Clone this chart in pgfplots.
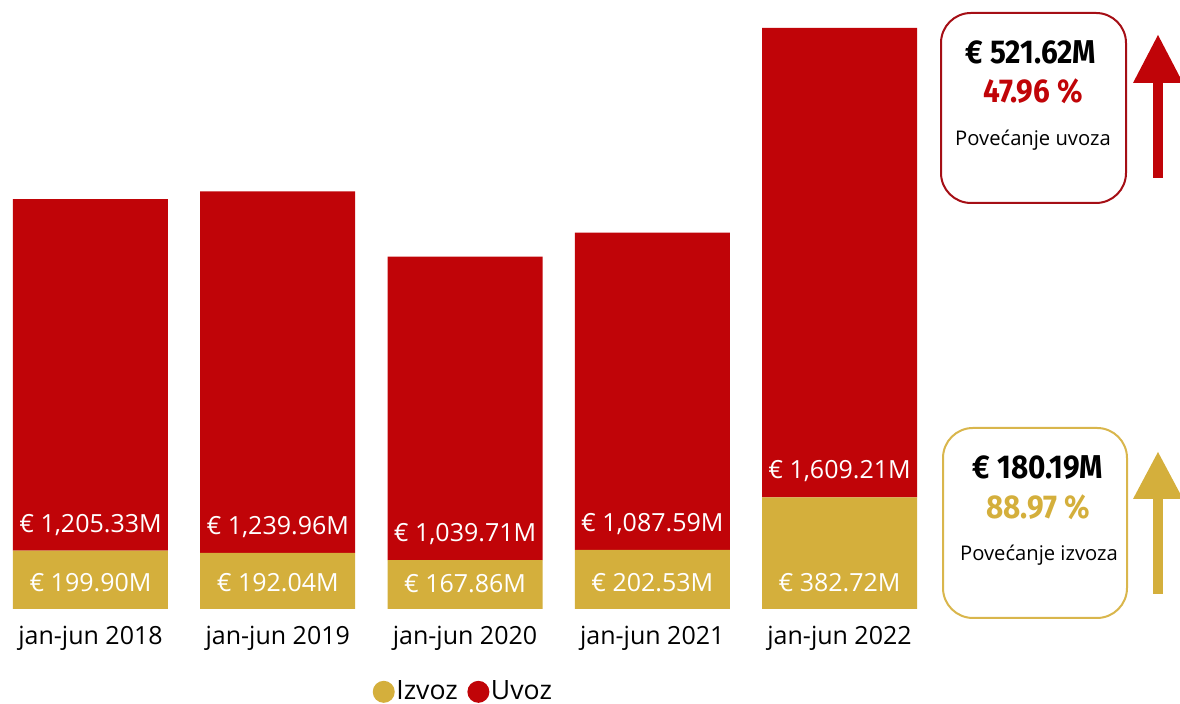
\documentclass[border=0pt]{standalone}
\usepackage{pgfplots}
\pgfplotsset{compat=1.18}
\usepackage{fontspec}
\setmainfont{Open Sans}
\newfontfamily\kpi{Fira Sans}[FakeStretch=0.9]
\definecolor{uvoz}{HTML}{C00408}
\definecolor{izvoz}{HTML}{D4AF3C}
\definecolor{boxred}{HTML}{A50E15}
\definecolor{boxgold}{HTML}{D9B64C}
\tikzset{lbl/.style={text=white, font=\fontsize{12.5pt}{15pt}\selectfont}}

\begin{document}
\begin{tikzpicture}
\path[use as bounding box] (0pt,0pt) rectangle (590pt,352pt);
\begin{axis}[
  at={(0.3pt,47.5pt)}, anchor=south west,
  scale only axis, width=464.4pt, height=291.7pt,
  ybar stacked, bar width=77.5pt,
  xmin=-0.48, xmax=4.48, ymin=0, ymax=2000,
  axis x line*=bottom, axis y line=none,
  axis line style={draw=none},
  xtick={0,...,4}, major tick length=0pt,
  xticklabels={jan-jun 2018,jan-jun 2019,jan-jun 2020,jan-jun 2021,jan-jun 2022},
  xticklabel style={anchor=base, yshift=-18pt, font=\fontsize{12.5pt}{15pt}\selectfont},
  ytick=\empty,
  clip=false,
  legend columns=-1,
  legend style={at={(0.498,-0.142)}, anchor=center, draw=none,
    font=\fontsize{13.3pt}{15pt}\selectfont,
    nodes={inner xsep=0.8pt},
    /tikz/every even column/.append style={column sep=4pt}},
]
\addplot[fill=izvoz, draw=none,
  legend image code/.code={\fill[izvoz] (0pt,0pt) circle (5.5pt);}]
  coordinates {(0,199.90) (1,192.04) (2,167.86) (3,202.53) (4,382.72)};
\addlegendentry{Izvoz}
\addplot[fill=uvoz, draw=none,
  legend image code/.code={\fill[uvoz] (0pt,0pt) circle (5.5pt);}]
  coordinates {(0,1205.33) (1,1239.96) (2,1039.71) (3,1087.59) (4,1609.21)};
\addlegendentry{Uvoz}
% anchor points for the value labels (just above each segment's base)
\coordinate (i0) at (axis cs:0,91);
\coordinate (i1) at (axis cs:1,91);
\coordinate (i2) at (axis cs:2,88);
\coordinate (i3) at (axis cs:3,91);
\coordinate (i4) at (axis cs:4,90);
\coordinate (u0) at (axis cs:0,289);
\coordinate (u1) at (axis cs:1,281);
\coordinate (u2) at (axis cs:2,257);
\coordinate (u3) at (axis cs:3,291.5);
\coordinate (u4) at (axis cs:4,471.7);
\end{axis}

\node[lbl] at (i0) {€ 199.90M};
\node[lbl] at (i1) {€ 192.04M};
\node[lbl] at (i2) {€ 167.86M};
\node[lbl] at (i3) {€ 202.53M};
\node[lbl] at (i4) {€ 382.72M};
\node[lbl] at (u0) {€ 1,205.33M};
\node[lbl] at (u1) {€ 1,239.96M};
\node[lbl] at (u2) {€ 1,039.71M};
\node[lbl] at (u3) {€ 1,087.59M};
\node[lbl] at (u4) {€ 1,609.21M};

% KPI cards, in pixel units (y downwards)
\begin{scope}[x=0.5pt, y=-0.5pt, shift={(0pt,352pt)}]
\tikzset{big/.style={font=\kpi\bfseries\fontsize{16.5pt}{19pt}\selectfont},
         small/.style={font=\fontsize{10.1pt}{12pt}\selectfont}}
\draw[boxred, line width=1pt, rounded corners=15pt] (941,13) rectangle (1126,203);
\node[big] at (1031,52) {€ 521.62M};
\node[big, text=uvoz] at (1033,91) {47.96 \%};
\node[small] at (1033,140) {Povećanje uvoza};
\fill[uvoz] (1153,82) rectangle (1163,178);
\fill[uvoz] (1133,83) -- (1158,35) -- (1183,83) -- cycle;

\draw[boxgold, line width=1pt, rounded corners=15pt] (943,428) rectangle (1127,618);
\node[big] at (1038,468) {€ 180.19M};
\node[big, text=izvoz] at (1038,507) {88.97 \%};
\node[small] at (1039,555) {Povećanje izvoza};
\fill[izvoz] (1153,498) rectangle (1163,594);
\fill[izvoz] (1133,499) -- (1158,452) -- (1183,499) -- cycle;
\end{scope}
\end{tikzpicture}
\end{document}
